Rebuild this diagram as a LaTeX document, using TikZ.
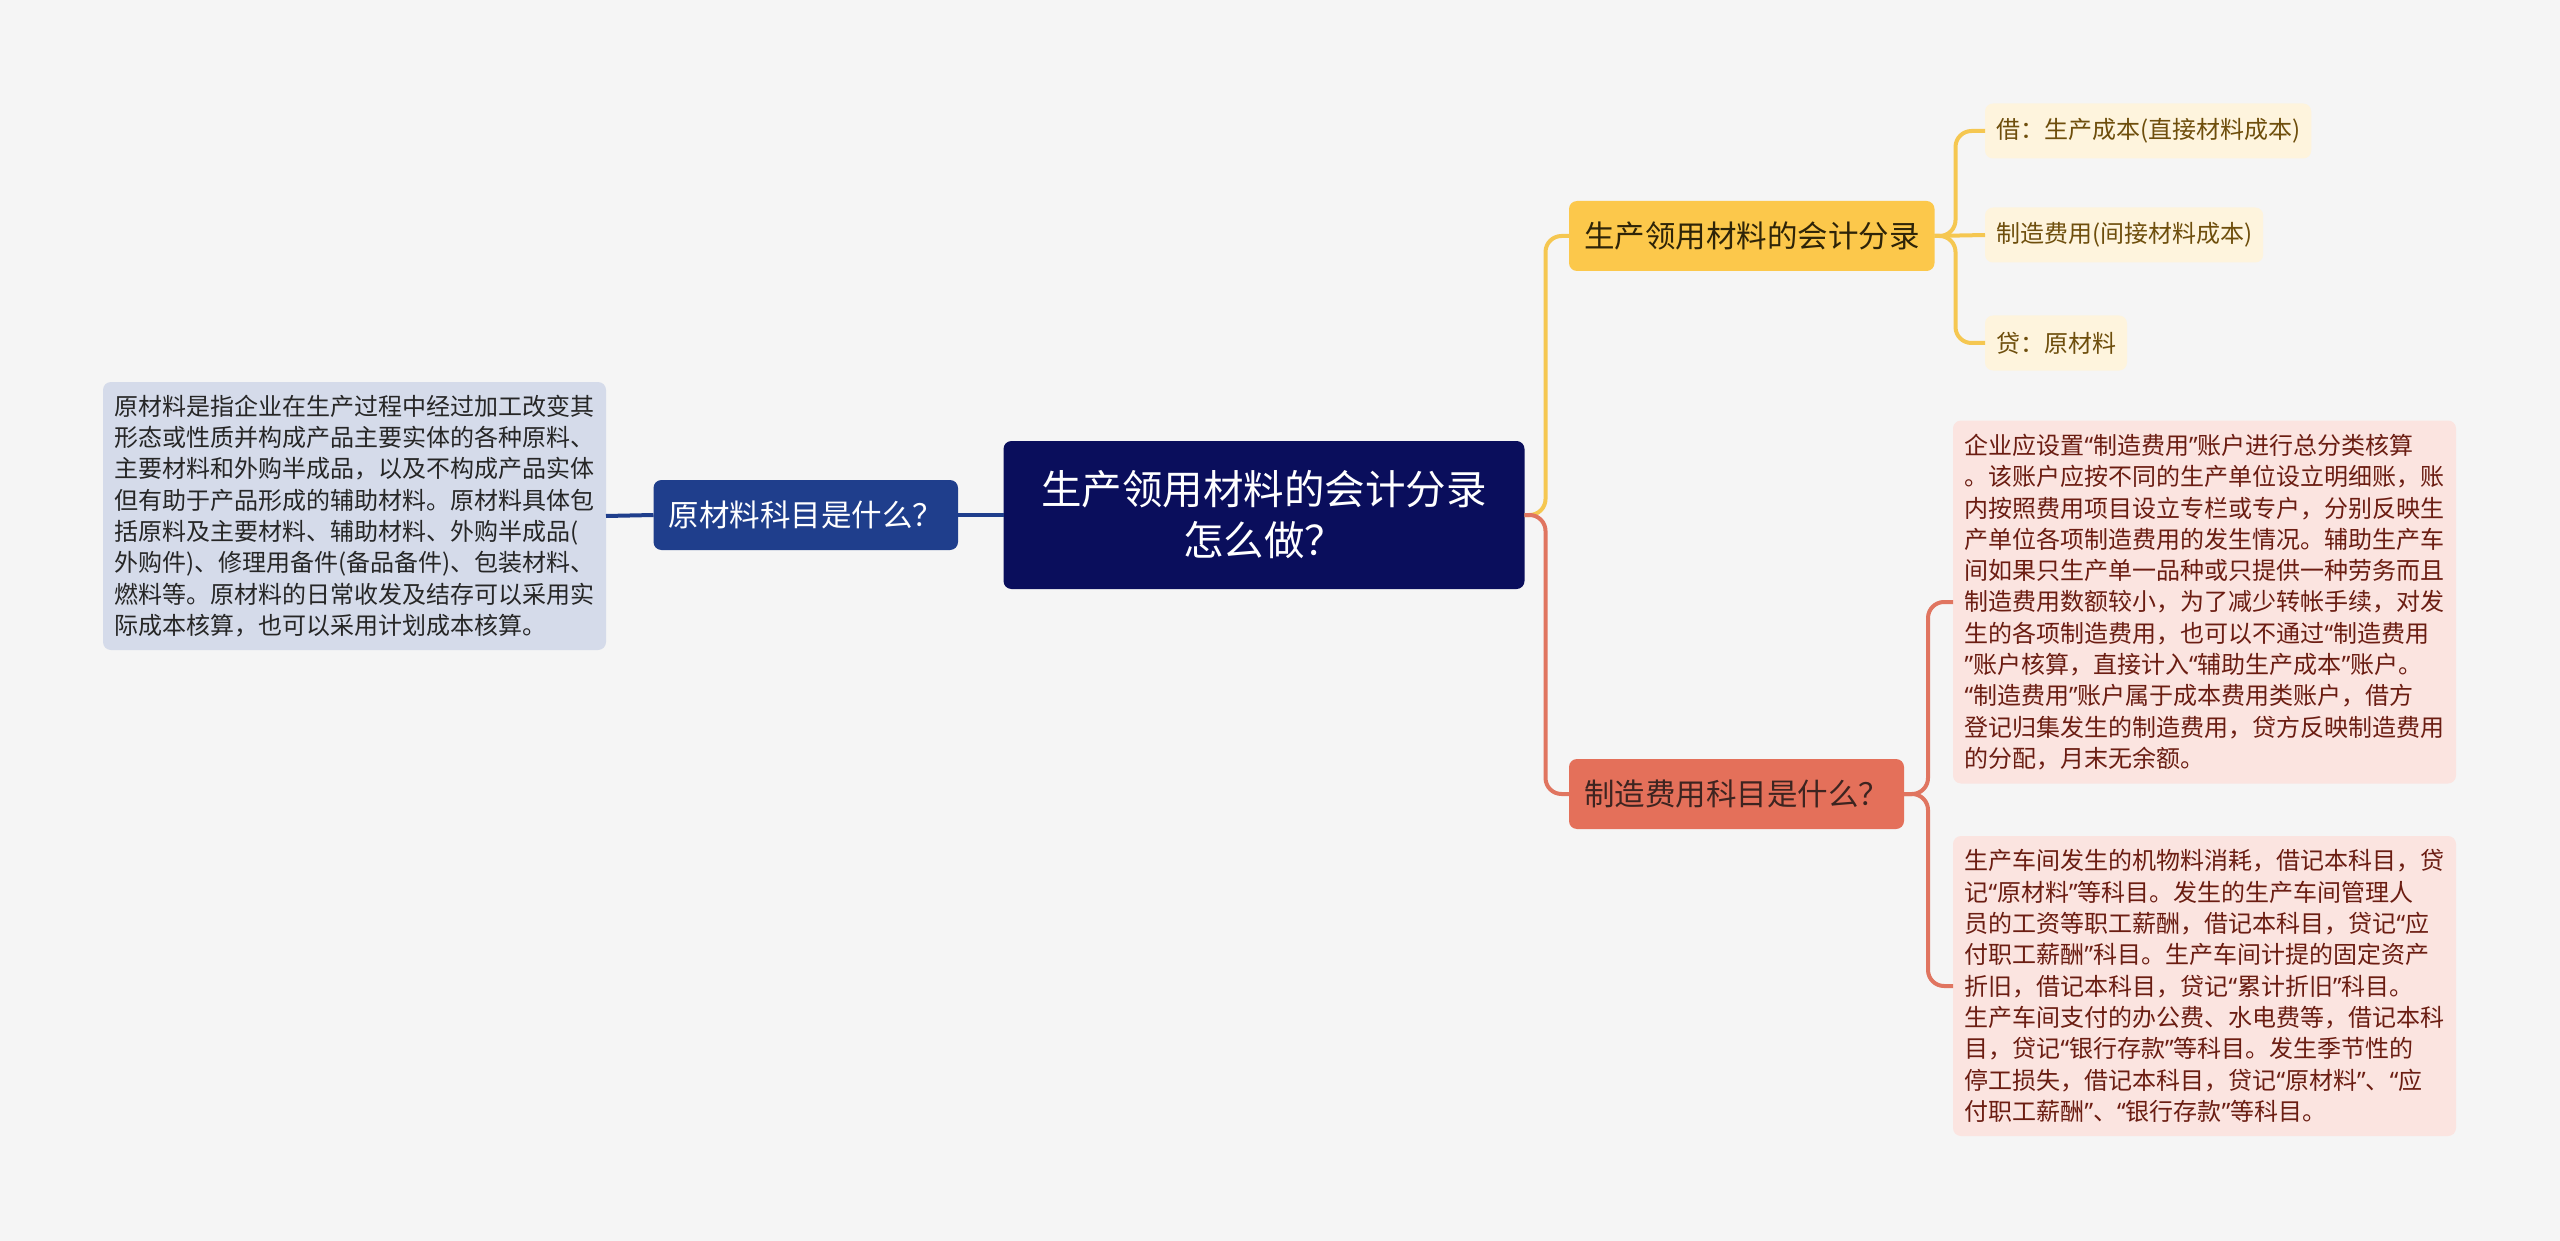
\documentclass[tikz,border=0pt]{standalone}
\usepackage{fontspec}
\setmainfont{Noto Sans CJK SC}
\newfontfamily\qfont{Noto Sans}
\newcommand\fsz[2]{\fontsize{#1}{#2}\selectfont}
\newcommand\myoq{{\qfont “}}
\newcommand\mycq{{\qfont ”}}
\definecolor{bgc}{HTML}{F5F5F5}
\definecolor{rootc}{HTML}{0A0E5C}
\definecolor{bluec}{HTML}{1F3E8C}
\definecolor{bluebox}{HTML}{D5DBEA}
\definecolor{yelc}{HTML}{FCC84B}
\definecolor{yelline}{HTML}{F5C751}
\definecolor{leafc}{HTML}{FEF4DD}
\definecolor{leaftext}{HTML}{6E4E0C}
\definecolor{yeltext}{HTML}{2E2408}
\definecolor{redc}{HTML}{E4705A}
\definecolor{redline}{HTML}{E07560}
\definecolor{redtext}{HTML}{3D2420}
\definecolor{redbox}{HTML}{FBE4E0}
\definecolor{redboxtext}{HTML}{6B1D12}
\begin{document}
\begin{tikzpicture}[x=1pt,y=-1pt,
  every node/.style={inner sep=0pt, outer sep=0pt},
  rootnode/.style={fill=rootc, rounded corners=8, text=white, font=\fsz{40.5}{51}, align=center, minimum width=521, minimum height=148},
  subnode/.style={rounded corners=8, font=\fsz{30.5}{36}, inner xsep=15, minimum height=70},
  leafnode/.style={fill=leafc, rounded corners=8, text=leaftext, font=\fsz{24}{30}, inner xsep=11, minimum height=55},
  textbox/.style={rounded corners=8, font=\fsz{24}{31.3}, align=left, text width=480, inner xsep=11.5},
  conn/.style={line width=4, rounded corners=16}
]
\useasboundingbox (0,0) rectangle (2560,1241);
\fill[bgc] (0,0) rectangle (2560,1241);

% nodes
\node[rootnode] (root) at (1264,515) {生产领用材料的会计分录\\怎么做？};

\node[subnode, fill=bluec, text=white, anchor=east] (lq) at (958,515) {原材料科目是什么？};
\node[textbox, fill=bluebox, text=black!85, anchor=east, minimum height=268] (ltext) at (606,516) {原材料是指企业在生产过程中经过加工改变其\\形态或性质并构成产品主要实体的各种原料、\\主要材料和外购半成品，以及不构成产品实体\\但有助于产品形成的辅助材料。原材料具体包\\括原料及主要材料、辅助材料、外购半成品(\\外购件)、修理用备件(备品备件)、包装材料、\\燃料等。原材料的日常收发及结存可以采用实\\际成本核算，也可以采用计划成本核算。};

\node[subnode, fill=yelc, text=yeltext, anchor=west] (yq) at (1569,236) {生产领用材料的会计分录};
\node[leafnode, anchor=west] (l1) at (1985,131) {借：生产成本(直接材料成本)};
\node[leafnode, anchor=west] (l2) at (1985,235) {制造费用(间接材料成本)};
\node[leafnode, anchor=west] (l3) at (1985,343) {贷：原材料};

\node[subnode, fill=redc, text=redtext, anchor=west] (rq) at (1569,794) {制造费用科目是什么？};
\node[textbox, fill=redbox, text=redboxtext, anchor=west, minimum height=363] (r1) at (1953,602) {企业应设置\myoq 制造费用\mycq 账户进行总分类核算\\。该账户应按不同的生产单位设立明细账，账\\内按照费用项目设立专栏或专户，分别反映生\\产单位各项制造费用的发生情况。辅助生产车\\间如果只生产单一品种或只提供一种劳务而且\\制造费用数额较小，为了减少转帐手续，对发\\生的各项制造费用，也可以不通过\myoq 制造费用\\\mycq 账户核算，直接计入\myoq 辅助生产成本\mycq 账户。\\\myoq 制造费用\mycq 账户属于成本费用类账户，借方\\登记归集发生的制造费用，贷方反映制造费用\\的分配，月末无余额。};
\node[textbox, fill=redbox, text=redboxtext, anchor=west, minimum height=300] (r2) at (1953,986) {生产车间发生的机物料消耗，借记本科目，贷\\记\myoq 原材料\mycq 等科目。发生的生产车间管理人\\员的工资等职工薪酬，借记本科目，贷记\myoq 应\\付职工薪酬\mycq 科目。生产车间计提的固定资产\\折旧，借记本科目，贷记\myoq 累计折旧\mycq 科目。\\生产车间支付的办公费、水电费等，借记本科\\目，贷记\myoq 银行存款\mycq 等科目。发生季节性的\\停工损失，借记本科目，贷记\myoq 原材料\mycq 、\myoq 应\\付职工薪酬\mycq 、\myoq 银行存款\mycq 等科目。};

% connectors
\draw[conn, bluec] (root.west) -- (lq.east);
\draw[conn, bluec] (lq.west) -- (ltext.east);
\draw[conn, yelline] (root.east) -- ++(21,0) |- (yq.west);
\draw[conn, redline] (root.east) -- ++(21,0) |- (rq.west);
\draw[conn, yelline] (yq.east) -- ++(21,0) |- (l1.west);
\draw[conn, yelline] (yq.east) -- (l2.west);
\draw[conn, yelline] (yq.east) -- ++(21,0) |- (l3.west);
\draw[conn, redline] (rq.east) -- ++(24,0) |- (r1.west);
\draw[conn, redline] (rq.east) -- ++(24,0) |- (r2.west);
\end{tikzpicture}
\end{document}
